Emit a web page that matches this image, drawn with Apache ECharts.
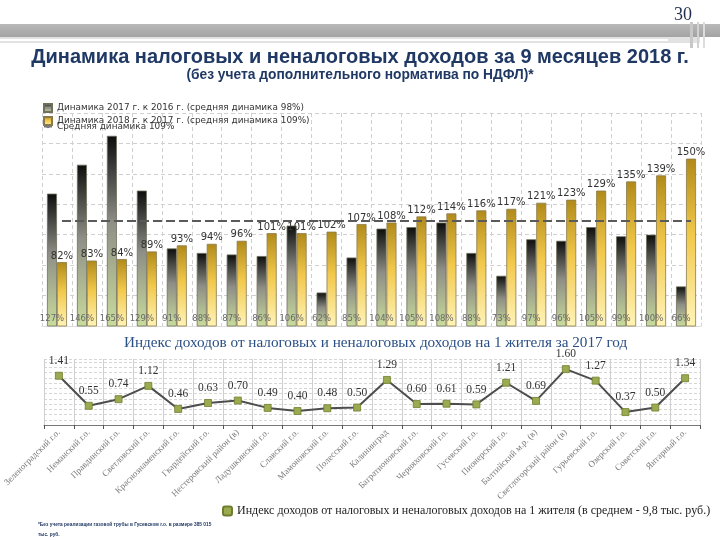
<!DOCTYPE html>
<html>
<head>
<meta charset="utf-8">
<script src="https://cdn.jsdelivr.net/npm/echarts@6/dist/echarts.min.js"></script>
<style>
html,body{margin:0;padding:0;background:#fff;}
#c{width:720px;height:540px;}
</style>
</head>
<body>
<div id="c"></div>
<script>
const categories = ["Зеленоградский г.о.","Неманский г.о.","Правдинский г.о.","Светловский г.о.","Краснознаменский г.о.","Гвардейский г.о.","Нестеровский район (в)","Ладушкинский г.о.","Славский г.о.","Мамоновский г.о.","Полесский г.о.","Калининград","Багратионовский г.о.","Черняховский г.о.","Гусевский г.о.","Пионерский г.о.","Балтийский м.р. (в)","Светлогорский район (в)","Гурьевский г.о.","Озерский г.о.","Советский г.о.","Янтарный г.о."];
const dyn2017 = [127,146,165,129,91,88,87,86,106,62,85,104,105,108,88,73,97,96,105,99,100,66];
const dyn2018 = [82,83,84,89,93,94,96,101,101,102,107,108,112,114,116,117,121,123,129,135,139,150];
const avg2018 = 109;
const incomeIndex = [1.41,0.55,0.74,1.12,0.46,0.63,0.70,0.49,0.40,0.48,0.50,1.29,0.60,0.61,0.59,1.21,0.69,1.60,1.27,0.37,0.50,1.34];
const name2017 = "Динамика 2017 г. к 2016 г. (средняя динамика 98%)";
const name2018 = "Динамика 2018 г. к 2017 г. (средняя динамика 109%)";
const nameAvg = "Средняя динамика 109%";
const nameIndex = "Индекс доходов от налоговых и неналоговых доходов на 1 жителя (в среднем - 9,8 тыс. руб.)";
const titleMain = "Динамика налоговых и неналоговых доходов за 9 месяцев 2018 г.";
const titleSub = "(без учета дополнительного норматива по НДФЛ)*";
const titleLine = "Индекс доходов от налоговых и неналоговых доходов на 1 жителя за 2017 год";
const footnote = "*Без учета реализации газовой трубы в Гусевском г.о. в размере 385 015\nтыс. руб.";
const pageNum = "30";

const chart = echarts.init(document.getElementById('c'), null, {renderer:'canvas'});
const darkGrad = new echarts.graphic.LinearGradient(0,0,0,1,[
  {offset:0,color:'#0d0d0d'},{offset:0.45,color:'#8e8e86'},{offset:1,color:'#c9dc9c'}]);
const goldGrad = new echarts.graphic.LinearGradient(0,0,0,1,[
  {offset:0,color:'#b08a1a'},{offset:0.45,color:'#f2c84a'},{offset:1,color:'#fff4b8'}]);
const sans = 'DejaVu Sans';
const serif = 'Liberation Serif';

const option = {
  backgroundColor:'#ffffff',
  animation:false,
  graphic:[
    {type:'rect',shape:{x:0,y:24,width:720,height:13},style:{fill:new echarts.graphic.LinearGradient(0,0,0,1,[{offset:0,color:'#b9b9b9'},{offset:1,color:'#a3a3a3'}])},z:-1},
    {type:'rect',shape:{x:0,y:37,width:700,height:6},style:{fill:'#e2e2e2'},z:-1},
    {type:'rect',shape:{x:0,y:39,width:668,height:2},style:{fill:'#ffffff'},z:-1},
    {type:'rect',shape:{x:690,y:22,width:3,height:26},style:{fill:'#c8c8c8'},z:-1},
    {type:'rect',shape:{x:697,y:22,width:2,height:26},style:{fill:'#d2d2d2'},z:-1},
    {type:'rect',shape:{x:703,y:22,width:2,height:26},style:{fill:'#dcdcdc'},z:-1},
    {type:'text',left:674,top:6,style:{text:pageNum,font:'18px "Liberation Serif"',fill:'#1f2d50'}},
    {type:'text',left:'center',top:47,style:{text:titleMain,font:'bold 20px "Liberation Sans", sans-serif',fill:'#1f3864'}},
    {type:'text',left:'center',top:68,style:{text:titleSub,font:'bold 13.8px "Liberation Sans", sans-serif',fill:'#1f3864'}},
    {type:'text',left:124,top:336,style:{text:titleLine,font:'15.2px "Liberation Serif"',fill:'#2a4f85'}},
    {type:'text',x:38,y:519,scaleX:0.8,style:{text:footnote,font:'bold 6px "Liberation Sans", sans-serif',fill:'#1f3864',lineHeight:10}}
  ],
  legend:[
    {data:[name2017,name2018],orient:'vertical',left:38,top:98,itemGap:3,itemWidth:8,itemHeight:8,icon:'rect',
     textStyle:{fontFamily:sans,fontSize:8.9,color:'#333'}},
    {data:[nameAvg],orient:'vertical',left:38,top:117,itemGap:0,itemWidth:8,itemHeight:2,
     textStyle:{fontFamily:sans,fontSize:8.9,color:'#333'}},
    {data:[nameIndex],left:217,top:500,itemWidth:9,itemHeight:9,icon:'roundRect',
     textStyle:{fontFamily:serif,fontSize:12,color:'#222'}}
  ],
  grid:[
    {left:42,right:19,top:113,bottom:214},
    {left:44,right:20,top:359,bottom:115}
  ],
  xAxis:[
    {type:'category',gridIndex:0,data:categories,axisLabel:{show:false},axisTick:{show:false},
     axisLine:{show:true,lineStyle:{color:'#dcdcdc'}},
     splitLine:{show:true,interval:0,lineStyle:{color:'#d0d0d0',type:[4,3]}}},
    {type:'category',gridIndex:1,data:categories,
     axisLine:{show:true,lineStyle:{color:'#777'}},
     axisTick:{show:true,alignWithLabel:false,length:4,lineStyle:{color:'#555'}},
     splitLine:{show:true,interval:0,lineStyle:{color:'#cfcfcf'}},
     axisLabel:{interval:0,rotate:45,fontFamily:serif,fontSize:9,color:'#7a7a7a',margin:6}}
  ],
  yAxis:[
    {type:'value',gridIndex:0,min:40,max:180,interval:20,axisLabel:{show:false},axisLine:{show:false},axisTick:{show:false},
     splitLine:{lineStyle:{color:'#d0d0d0',type:[4,3]}}},
    {type:'value',gridIndex:1,min:0,max:1.89,interval:0.15,axisLabel:{show:false},axisLine:{show:false},axisTick:{show:false},
     splitLine:{lineStyle:{color:'#d6d6d6',type:[3,2]}}}
  ],
  series:[
    {name:name2017,type:'bar',xAxisIndex:0,yAxisIndex:0,data:dyn2017,barWidth:10,barGap:'0%',
     itemStyle:{color:darkGrad,borderColor:'#6f6f5a',borderWidth:0.8},
     label:{show:true,position:'insideBottom',distance:3,formatter:'{c}%',fontFamily:sans,fontSize:8.5,color:'#6a6a6a'}},
    {name:name2018,type:'bar',xAxisIndex:0,yAxisIndex:0,data:dyn2018,barWidth:10,
     itemStyle:{color:goldGrad,borderColor:'#8a7a4a',borderWidth:0.8},
     label:{show:true,position:'top',distance:1,formatter:'{c}%',fontFamily:sans,fontSize:10,color:'#333'},
     markLine:{silent:true,symbol:'none',label:{show:false},
       lineStyle:{color:'#5a5a5a',width:2,type:[9,4]},
       data:[[{coord:[categories[0],avg2018]},{coord:[categories[categories.length-1],avg2018]}]]}},
    {name:nameAvg,type:'line',xAxisIndex:0,yAxisIndex:0,data:[],showSymbol:false,
     itemStyle:{color:'#777'},lineStyle:{color:'#777',width:2}},
    {name:nameIndex,type:'line',xAxisIndex:1,yAxisIndex:1,data:incomeIndex,
     symbol:'rect',symbolSize:7,
     itemStyle:{color:'#9aaa4e',borderColor:'#6f7d30',borderWidth:0.8},
     lineStyle:{color:'#4d4d4d',width:2},
     label:{show:true,position:'top',distance:5,formatter:p=>p.value.toFixed(2),fontFamily:serif,fontSize:11.5,color:'#333'}}
  ]
};
chart.setOption(option);
</script>
</body>
</html>
